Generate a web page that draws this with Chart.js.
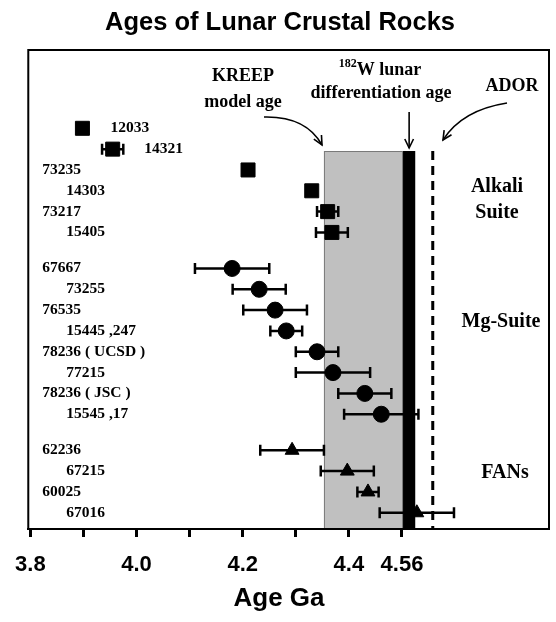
<!DOCTYPE html>
<html><head><meta charset="utf-8">
<script src="https://cdn.jsdelivr.net/npm/chart.js@4.4.1/dist/chart.umd.min.js"></script>
<style>html,body{margin:0;padding:0;background:#fff}#wrap{width:556px;height:622px}</style>
</head><body><div id="wrap"><canvas id="c" width="556" height="622"></canvas></div>
<script>
// ---- data ----
const ALKALI_SAMPLES = ['12033','14321','73235','14303','73217','15405'];
const ALKALI_AGES    = [3.898, 3.955, 4.210, 4.330, 4.360, 4.368];
const ALKALI_ERRORS  = [0, 0.02, 0, 0, 0.02, 0.03];

const MG_SAMPLES = ['67667','73255','76535','15445 ,247','78236 ( UCSD )','77215','78236 ( JSC )','15545 ,17'];
const MG_AGES    = [4.180, 4.231, 4.261, 4.282, 4.340, 4.370, 4.430, 4.461];
const MG_ERRORS  = [0.07, 0.05, 0.06, 0.03, 0.04, 0.07, 0.05, 0.07];

const FAN_SAMPLES = ['62236','67215','60025','67016'];
const FAN_AGES    = [4.293, 4.397, 4.436, 4.528];
const FAN_ERRORS  = [0.06, 0.05, 0.02, 0.07];

const GROUP_NAMES = [['Alkali','Suite'], ['Mg-Suite'], ['FANs']];

const X_TICK_VALUES = [3.8, 3.9, 4.0, 4.1, 4.2, 4.3, 4.4, 4.5];
const X_TICK_LABELS = ['3.8', '', '4.0', '', '4.2', '', '4.4', '4.56'];

const KREEP_MODEL_AGE = [4.353, 4.502];
const W182_AGE = [4.502, 4.525];
const ADOR_AGE = 4.558;

const TITLE = 'Ages of Lunar Crustal Rocks';
const X_TITLE = 'Age Ga';

// ---- layout helpers ----
const ROW_OFFSET = 3.76, GROUP_GAP = 0.73;
function rowPos(groupIdx, idxInAll){ return ROW_OFFSET + idxInAll + GROUP_GAP*groupIdx; }
const groups = [
  {samples: ALKALI_SAMPLES, ages: ALKALI_AGES, errs: ALKALI_ERRORS, style: 'rect', r: 9.9},
  {samples: MG_SAMPLES, ages: MG_AGES, errs: MG_ERRORS, style: 'circle', r: 8},
  {samples: FAN_SAMPLES, ages: FAN_AGES, errs: FAN_ERRORS, style: 'triangle', r: 8}
];
let k = 0;
groups.forEach((g, gi) => { g.pos = g.samples.map(() => rowPos(gi, k++)); });

const SERIF = "'Liberation Serif','Times New Roman',serif";
const SANS = "'Liberation Sans',Arial,sans-serif";

function arrowHead(ctx, x, y, ang, len, spread){
  ctx.beginPath();
  ctx.moveTo(x - len*Math.cos(ang - spread), y - len*Math.sin(ang - spread));
  ctx.lineTo(x, y);
  ctx.lineTo(x - len*Math.cos(ang + spread), y - len*Math.sin(ang + spread));
  ctx.stroke();
}

const underlay = {
  id: 'underlay',
  beforeDatasetsDraw(chart){
    const {ctx, chartArea: a, scales: {x, y}} = chart;
    const top = y.getPixelForValue(4.85);
    ctx.save();
    // KREEP band
    const k0 = x.getPixelForValue(KREEP_MODEL_AGE[0]), k1 = x.getPixelForValue(KREEP_MODEL_AGE[1]);
    ctx.fillStyle = '#c0c0c0';
    ctx.fillRect(k0, top, k1 - k0, a.bottom - top);
    ctx.strokeStyle = '#7a7a7a'; ctx.lineWidth = 1;
    ctx.strokeRect(k0 + 0.5, top + 0.5, k1 - k0 - 1, a.bottom - top);
    // W182 bar
    const w0 = x.getPixelForValue(W182_AGE[0]), w1 = x.getPixelForValue(W182_AGE[1]);
    ctx.fillStyle = '#000';
    ctx.fillRect(w0, top, w1 - w0, a.bottom - top);
    // ADOR dashed
    const d = x.getPixelForValue(ADOR_AGE);
    ctx.strokeStyle = '#000'; ctx.lineWidth = 3; ctx.setLineDash([9, 6]);
    ctx.beginPath(); ctx.moveTo(d, top); ctx.lineTo(d, a.bottom); ctx.stroke();
    ctx.setLineDash([]);
    // error bars
    ctx.lineWidth = 2.5;
    groups.forEach(g => {
      g.ages.forEach((v, i) => {
        const e = g.errs[i];
        if (!e) return;
        const yy = y.getPixelForValue(g.pos[i]);
        const xa = x.getPixelForValue(v - e), xb = x.getPixelForValue(v + e);
        ctx.beginPath();
        ctx.moveTo(xa, yy); ctx.lineTo(xb, yy);
        ctx.moveTo(xa, yy - 5.5); ctx.lineTo(xa, yy + 5.5);
        ctx.moveTo(xb, yy - 5.5); ctx.lineTo(xb, yy + 5.5);
        ctx.stroke();
      });
    });
    ctx.restore();
  },
  afterDraw(chart){
    const {ctx, chartArea: a, scales: {x, y}} = chart;
    ctx.save();
    // frame
    ctx.strokeStyle = '#000'; ctx.lineWidth = 2;
    ctx.strokeRect(a.left, a.top, a.right - a.left, a.bottom - a.top);
    ctx.fillStyle = '#000';
    // titles
    ctx.textAlign = 'center'; ctx.textBaseline = 'middle';
    ctx.font = 'bold 25.5px ' + SANS;
    ctx.fillText(TITLE, 280, 23);
    ctx.font = 'bold 26px ' + SANS;
    ctx.fillText(X_TITLE, 279, 599);
    // row labels
    ctx.font = 'bold 15.5px ' + SERIF;
    ctx.textAlign = 'left';
    groups.forEach((g, gi) => {
      g.samples.forEach((s, i) => {
        const yy = y.getPixelForValue(g.pos[i]);
        let xx = a.left + (i % 2 ? 38 : 14);
        if (gi === 0 && i === 0) xx = x.getPixelForValue(g.ages[i]) + 28;
        if (gi === 0 && i === 1) xx = x.getPixelForValue(g.ages[i] + g.errs[i]) + 21;
        ctx.fillText(s, xx, yy);
      });
    });
    // group names
    ctx.textAlign = 'center';
    ctx.font = 'bold 20px ' + SERIF;
    ctx.fillText(GROUP_NAMES[0][0], 497, 187);
    ctx.fillText(GROUP_NAMES[0][1], 497, 213);
    ctx.fillText(GROUP_NAMES[1][0], 501, 322);
    ctx.fillText(GROUP_NAMES[2][0], 505, 473);
    // annotations
    ctx.font = 'bold 18px ' + SERIF;
    ctx.fillText('KREEP', 243, 76);
    ctx.fillText('model age', 243, 102);
    ctx.fillText('ADOR', 512, 86);
    ctx.fillText('differentiation age', 381, 93);
    // 182W lunar with superscript
    const supF = 'bold 12px ' + SERIF, mainF = 'bold 18px ' + SERIF;
    ctx.font = supF; const ws = ctx.measureText('182').width;
    ctx.font = mainF; const wm = ctx.measureText('W lunar').width;
    const sx = 380 - (ws + wm) / 2;
    ctx.textAlign = 'left';
    ctx.font = supF; ctx.fillText('182', sx, 64);
    ctx.font = mainF; ctx.fillText('W lunar', sx + ws, 70);
    // arrows
    ctx.strokeStyle = '#000'; ctx.lineWidth = 1.6;
    ctx.beginPath(); ctx.moveTo(264, 117); ctx.quadraticCurveTo(306, 116, 322, 145); ctx.stroke();
    arrowHead(ctx, 322, 145, Math.atan2(145 - 116, 322 - 306), 10, 0.45);
    const wx = (x.getPixelForValue(W182_AGE[0]) + x.getPixelForValue(W182_AGE[1])) / 2;
    ctx.beginPath(); ctx.moveTo(wx, 112); ctx.lineTo(wx, 148); ctx.stroke();
    arrowHead(ctx, wx, 148, Math.PI / 2, 10, 0.45);
    ctx.beginPath(); ctx.moveTo(507, 103); ctx.quadraticCurveTo(462, 110, 443, 140); ctx.stroke();
    arrowHead(ctx, 443, 140, Math.atan2(140 - 110, 443 - 462), 10, 0.45);
    ctx.restore();
  }
};

new Chart(document.getElementById('c'), {
  type: 'scatter',
  data: {
    datasets: groups.map(g => ({
      data: g.ages.map((v, i) => ({x: v, y: g.pos[i]})),
      pointStyle: g.style,
      pointRadius: g.r,
      pointHoverRadius: g.r,
      backgroundColor: '#000',
      borderColor: '#000',
      borderWidth: 1,
      clip: false
    }))
  },
  options: {
    responsive: false,
    animation: false,
    devicePixelRatio: 1,
    layout: {autoPadding: false, padding: {left: 28, right: 7, top: 50, bottom: 0}},
    plugins: {
      legend: {display: false},
      tooltip: {enabled: false},
      title: {display: false}
    },
    scales: {
      x: {
        type: 'linear', min: 3.796, max: 4.777,
        afterBuildTicks: s => { s.ticks = X_TICK_VALUES.map(v => ({value: v})); },
        afterFit: s => { s.height = 93; },
        ticks: {
          autoSkip: false, maxRotation: 0, color: '#000', padding: 15,
          font: {size: 22, weight: 'bold', family: SANS},
          callback: (v, i) => X_TICK_LABELS[i]
        },
        grid: {drawOnChartArea: false, drawTicks: true, tickLength: 8, tickWidth: 3, color: '#000'},
        border: {color: '#000', width: 2}
      },
      y: {type: 'linear', min: 0, max: 23, reverse: true, display: false}
    }
  },
  plugins: [underlay]
});
</script>
</body></html>
